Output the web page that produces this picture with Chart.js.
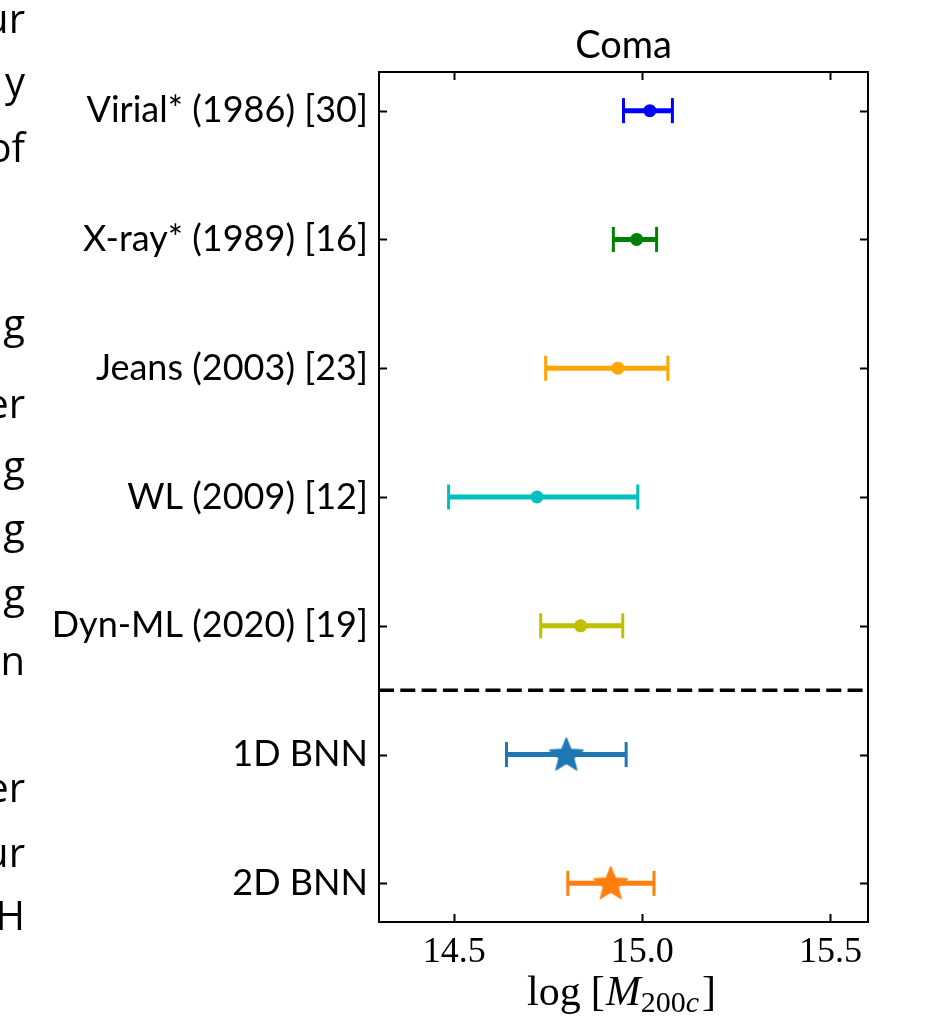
<!DOCTYPE html>
<html>
<head>
<meta charset="utf-8">
<script src="https://cdn.jsdelivr.net/npm/chart.js@4.4.1/dist/chart.umd.min.js"></script>
<style>
  body { margin: 0; background: #fff; }
  #wrap { position: relative; width: 941px; height: 1024px; }
</style>
</head>
<body>
<div id="wrap"><canvas id="coma" width="941" height="1024"></canvas></div>
<script>
// measurements of the Coma cluster mass, one row each
var names = ['Virial* (1986) [30]', 'X-ray* (1989) [16]', 'Jeans (2003) [23]', 'WL (2009) [12]', 'Dyn-ML (2020) [19]', '1D BNN', '2D BNN'];
var best = [15.02, 14.985, 14.935, 14.72, 14.836, 14.798, 14.916];
var lower = [14.95, 14.923, 14.743, 14.485, 14.73, 14.639, 14.802];
var upper = [15.08, 15.038, 15.068, 14.988, 14.948, 14.957, 15.031];
var colors = ['#0000ff', '#008000', '#ffa500', '#00bfbf', '#bfbf00', '#1f77b4', '#ff7f0e'];
var markers = ['circle', 'circle', 'circle', 'circle', 'circle', 'star', 'star'];
var xTicks = [14.5, 15.0, 15.5];
var separator = 4.5;

// cut off words of the paper text on the left edge
var sideText = ['ur', 'y', 'of', 'g', 'er', 'g', 'g', 'g', 'n', 'er', 'ur', 'H'];
var sideBaseline = [33, 96, 162, 338, 418, 480, 543, 608, 675, 802, 867, 930];

function makeStar(color){
  var c = document.createElement('canvas');
  c.width = 38;
  c.height = 38;
  var ctx = c.getContext('2d');
  var R = 17.5, r = 7.6;
  ctx.beginPath();
  for (var k = 0; k < 10; k++){
    var rad = (k % 2 == 0) ? R : r;
    var a = -Math.PI / 2 + k * Math.PI / 5;
    var px = 19 + rad * Math.cos(a);
    var py = 20 + rad * Math.sin(a);
    if (k == 0) ctx.moveTo(px, py); else ctx.lineTo(px, py);
  }
  ctx.closePath();
  ctx.fillStyle = color;
  ctx.strokeStyle = color;
  ctx.lineJoin = 'round';
  ctx.lineWidth = 1.5;
  ctx.fill();
  ctx.stroke();
  return c;
}

var datasets = [];
for (var i = 0; i < names.length; i++){
  // error bar with caps
  datasets.push({
    data: [{x: lower[i], y: i}, {x: upper[i], y: i}],
    showLine: true,
    borderColor: colors[i],
    borderWidth: 5,
    pointStyle: 'line',
    rotation: 90,
    pointRadius: 12.5,
    pointBorderWidth: 3,
    pointBorderColor: colors[i],
    order: 1
  });
  // central value
  var isStar = markers[i] == 'star';
  datasets.push({
    data: [{x: best[i], y: i}],
    pointStyle: isStar ? makeStar(colors[i]) : 'circle',
    pointRadius: isStar ? 17 : 6.5,
    backgroundColor: colors[i],
    borderColor: colors[i],
    pointBorderWidth: 0,
    order: 0
  });
}

var framePlugin = {
  id: 'frame',
  afterDraw: function(chart){
    var ctx = chart.ctx;
    var a = chart.chartArea;
    var xs = chart.scales.x, ys = chart.scales.y;
    ctx.save();
    ctx.strokeStyle = '#000';
    ctx.lineWidth = 2;
    ctx.strokeRect(a.left, a.top, a.right - a.left, a.bottom - a.top);

    // inward ticks on all four sides
    var tl = 8;
    ctx.beginPath();
    xTicks.forEach(function(v){
      var px = Math.round(xs.getPixelForValue(v)) + 0.5;
      ctx.moveTo(px, a.bottom); ctx.lineTo(px, a.bottom - tl);
      ctx.moveTo(px, a.top); ctx.lineTo(px, a.top + tl);
    });
    names.forEach(function(n, j){
      var py = Math.round(ys.getPixelForValue(j)) + 0.5;
      ctx.moveTo(a.left, py); ctx.lineTo(a.left + tl, py);
      ctx.moveTo(a.right, py); ctx.lineTo(a.right - tl, py);
    });
    ctx.stroke();

    // dashed separator between literature and BNN results
    var sy = ys.getPixelForValue(separator);
    ctx.beginPath();
    ctx.setLineDash([15, 6.3]);
    ctx.lineWidth = 3.5;
    ctx.moveTo(a.left, sy);
    ctx.lineTo(a.right, sy);
    ctx.stroke();
    ctx.setLineDash([]);

    // title
    ctx.fillStyle = '#000';
    ctx.textAlign = 'center';
    ctx.textBaseline = 'alphabetic';
    ctx.font = '38px Lato';
    ctx.fillText('Coma', (a.left + a.right) / 2, 58);

    // x axis title: log [M_200c]
    var base = 1005;
    var big = '42px "Liberation Serif"';
    var bigIt = 'italic 42px "Liberation Serif"';
    var sub = '30px "Liberation Serif"';
    var subIt = 'italic 30px "Liberation Serif"';
    var parts = [
      {t: 'log', f: big, dy: 0, gap: 10},
      {t: '[', f: big, dy: 0, gap: 1},
      {t: 'M', f: bigIt, dy: 0, gap: 0},
      {t: '200', f: sub, dy: 7, gap: 0},
      {t: 'c', f: subIt, dy: 7, gap: 3},
      {t: ']', f: big, dy: 0, gap: 0}
    ];
    var total = 0;
    parts.forEach(function(p){
      ctx.font = p.f;
      p.w = ctx.measureText(p.t).width;
      total += p.w + p.gap;
    });
    var cx = (a.left + a.right) / 2 - 2 - total / 2;
    ctx.textAlign = 'left';
    parts.forEach(function(p){
      ctx.font = p.f;
      ctx.fillText(p.t, cx, base + p.dy);
      cx += p.w + p.gap;
    });

    // paper text fragments on the far left
    ctx.textAlign = 'right';
    ctx.font = '40px "Open Sans"';
    sideText.forEach(function(t, j){
      ctx.fillText(t, 25, sideBaseline[j]);
    });
    ctx.restore();
  }
};

var comaChart = new Chart(document.getElementById('coma'), {
  type: 'scatter',
  data: {datasets: datasets},
  options: {
    responsive: false,
    animation: false,
    devicePixelRatio: 1,
    layout: {padding: {top: 72, right: 73, bottom: 0, left: 0}},
    plugins: {
      legend: {display: false},
      tooltip: {enabled: false},
      title: {display: false}
    },
    scales: {
      x: {
        type: 'linear',
        min: 14.3,
        max: 15.6,
        grid: {display: false},
        border: {display: false},
        afterBuildTicks: function(scale){
          scale.ticks = xTicks.map(function(v){ return {value: v}; });
        },
        afterFit: function(scale){
          scale.height = 102;
        },
        ticks: {
          color: '#000',
          padding: 1,
          maxRotation: 0,
          font: {family: '"Liberation Serif"', size: 36},
          callback: function(v){ return v.toFixed(1); }
        }
      },
      y: {
        type: 'linear',
        reverse: true,
        min: -0.3,
        max: 6.3,
        grid: {display: false},
        border: {display: false},
        afterBuildTicks: function(scale){
          scale.ticks = names.map(function(n, j){ return {value: j}; });
        },
        afterFit: function(scale){
          scale.width = 379;
        },
        ticks: {
          color: '#000',
          padding: 3,
          font: {family: 'Lato', size: 36},
          callback: function(v){ return names[v]; }
        }
      }
    }
  },
  plugins: [framePlugin]
});
</script>
</body>
</html>
